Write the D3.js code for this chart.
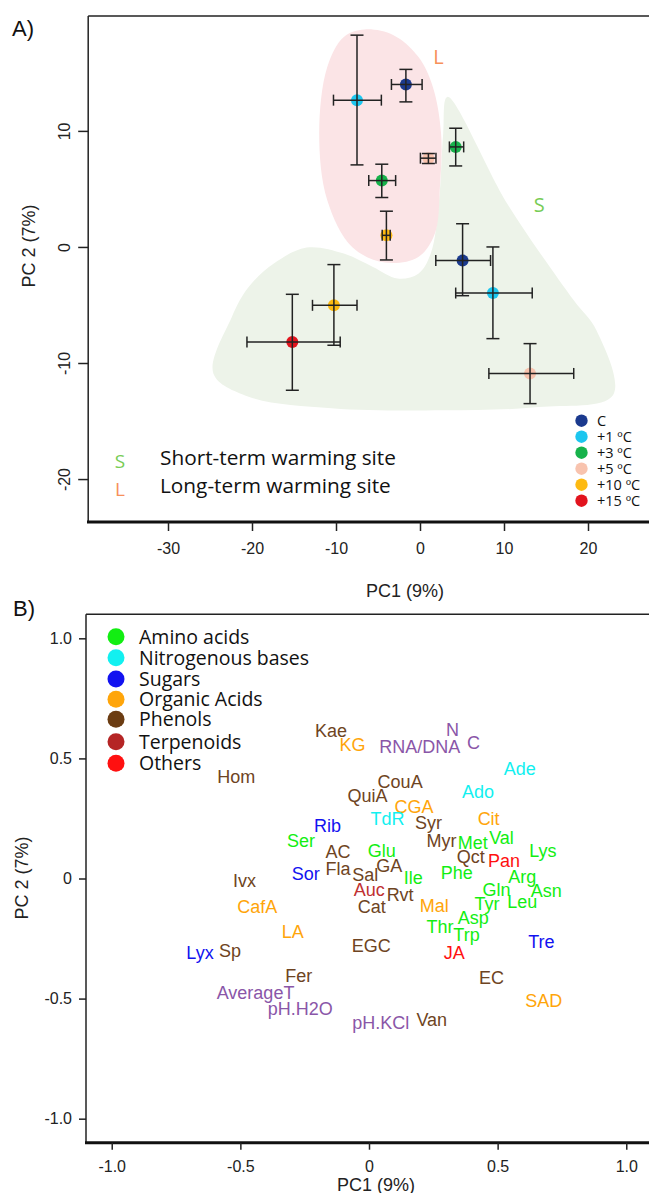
<!DOCTYPE html>
<html><head><meta charset="utf-8">
<script src="https://cdn.jsdelivr.net/npm/d3@7"></script>
<style>body{margin:0;background:#fff}svg{display:block}</style>
</head><body>
<script>
// ---------- Panel A data ----------
const treatments = ["C","+1 ºC","+3 ºC","+5 ºC","+10 ºC","+15 ºC"];
// Long-term site (L)
const lTreat  = ["C","+1 ºC","+3 ºC","+5 ºC","+10 ºC"];
const lPC1    = [-1.68, -7.5, -4.55, 1.0, -4.0];
const lPC1Lo  = [-3.40, -10.3, -6.1, 0.05, -4.5];
const lPC1Hi  = [0.25, -4.6, -2.9, 1.9, -3.55];
const lPC2    = [14.0, 12.65, 5.72, 7.65, 1.0];
const lPC2Lo  = [12.5, 7.07, 4.26, 7.19, -1.12];
const lPC2Hi  = [15.3, 18.25, 7.13, 8.05, 3.08];
// Short-term site (S)
const sTreat  = ["C","+1 ºC","+3 ºC","+5 ºC","+10 ºC","+15 ºC"];
const sPC1    = [5.07, 8.68, 4.25, 13.1, -10.25, -15.2];
const sPC1Lo  = [1.88, 4.25, 3.5, 8.2, -12.8, -20.6];
const sPC1Hi  = [8.4, 13.36, 5.2, 18.3, -7.5, -9.5];
const sPC2    = [-1.17, -3.97, 8.62, -10.9, -5.03, -8.19];
const sPC2Lo  = [-4.2, -7.9, 6.98, -13.5, -8.47, -12.35];
const sPC2Hi  = [2.0, 0.0, 10.23, -8.33, -1.52, -4.08];
// site envelopes (data units)
const lHullX = [-6.6,-3.15,-0.2,1.53,2.51,2.37,1.77,-0.2,-4.14,-8.08,-11.04,-12.0,-11.04,-9.07];
const lHullY = [18.74,18.25,16.38,13.79,9.78,5.17,1.16,-0.86,-1.35,0,4.03,9.78,15.5,18.1];
const sHullX = [3.25,10.5,18.3,21.0,22.97,14.1,2.76,-10.5,-20.4,-24.6,-22.4,-20.4,-17.4,-13.5,-9.07,-5.6,-2.66,-0.2,1.28,2.27,2.76];
const sHullY = [12.93,3.6,-4.6,-7.18,-12.78,-13.8,-14.08,-13.9,-12.9,-10.9,-6.03,-3.45,-1.43,-0.05,-0.57,-1.72,-2.72,-2.3,-0.57,4.03,9.78];
const xTicksA = [-30,-20,-10,0,10,20];
const yTicksA = [-20,-10,0,10];

// ---------- Panel B data ----------
const groups = ["Amino acids","Nitrogenous bases","Sugars","Organic Acids","Phenols","Terpenoids","Others"];
const varNames = ["Kae","KG","RNA/DNA","N","C","Ade","CouA","QuiA","Ado","CGA","TdR","Syr","Cit","Rib","Myr","Met","Val","Lys","AC","Glu","Qct","Pan","Fla","GA","Sal","Phe","Arg","Ile","Ser","Sor","Ivx","Auc","Rvt","Cat","CafA","LA","EGC","Lyx","Sp","Fer","AverageT","pH.H2O","pH.KCl","Van","Mal","Thr","JA","Gln","Asn","Tyr","Leu","Asp","Trp","Tre","EC","SAD","Hom"];
const varPC1 = [-0.148,-0.064,0.197,0.325,0.406,0.586,0.121,-0.006,0.424,0.175,0.072,0.231,0.465,-0.161,0.282,0.403,0.515,0.676,-0.120,0.050,0.396,0.525,-0.120,0.079,-0.015,0.341,0.596,0.172,-0.264,-0.246,-0.484,0.001,0.121,0.011,-0.434,-0.296,0.009,-0.657,-0.540,-0.273,-0.441,-0.267,0.046,0.244,0.254,0.276,0.331,0.496,0.689,0.459,0.596,0.405,0.379,0.670,0.476,0.679,-0.516];
const varPC2 = [0.617,0.557,0.550,0.620,0.566,0.457,0.402,0.346,0.360,0.298,0.249,0.231,0.249,0.218,0.159,0.149,0.169,0.114,0.110,0.117,0.089,0.076,0.041,0.055,0.016,0.023,0.006,0.002,0.159,0.020,-0.010,-0.046,-0.066,-0.119,-0.119,-0.223,-0.278,-0.308,-0.299,-0.403,-0.475,-0.544,-0.600,-0.586,-0.112,-0.199,-0.310,-0.045,-0.049,-0.107,-0.098,-0.164,-0.236,-0.264,-0.412,-0.510,0.422];
const varGroup = ["Phenols","Organic Acids","Env","Env","Env","Nitrogenous bases","Phenols","Phenols","Nitrogenous bases","Organic Acids","Nitrogenous bases","Phenols","Organic Acids","Sugars","Phenols","Amino acids","Amino acids","Amino acids","Phenols","Amino acids","Phenols","Others","Phenols","Phenols","Phenols","Amino acids","Amino acids","Amino acids","Amino acids","Sugars","Phenols","Terpenoids","Phenols","Phenols","Organic Acids","Organic Acids","Phenols","Sugars","Phenols","Phenols","Env","Env","Env","Phenols","Organic Acids","Amino acids","Others","Amino acids","Amino acids","Amino acids","Amino acids","Amino acids","Amino acids","Sugars","Phenols","Organic Acids","Phenols"];
const ticksB = [-1.0,-0.5,0,0.5,1.0];

// ---------- styles ----------
const treatColor = d3.scaleOrdinal().domain(treatments)
  .range(["#1b3a8e","#1cc6ef","#17b24b","#f8c3ae","#fdba12","#e2141e"]);
const groupColor = d3.scaleOrdinal().domain(groups.concat(["Env"]))
  .range(["#12ee12","#12f0f0","#1212f0","#ffa50a","#6b3c12","#b52525","#ff1010","#8a56a8"]);
const labelColor = d3.scaleOrdinal().domain(groups.concat(["Env"]))
  .range(["#12ee12","#12f0f0","#1212f0","#ffa50a","#6e4422","#c03030","#ff1010","#8a56a8"]);
const TICKF = "'Liberation Sans', Arial, sans-serif";
const LEGF = "'Open Sans', sans-serif";

const svg = d3.select("body").append("svg").attr("width",649).attr("height",1193);

// ================= Panel A =================
const xA = d3.scaleLinear().domain([-39.5, 27.5]).range([88.2, 651]);
const yA = d3.scaleLinear().domain([-23.7, 19.9]).range([522, 16]);
const gA = svg.append("g");

const hull = d3.line().x(d=>xA(d[0])).y(d=>yA(d[1])).curve(d3.curveCatmullRomClosed.alpha(0.5));
gA.append("path").attr("d", hull(sHullX.map((x,i)=>[x,sHullY[i]]))).attr("fill","#edf3e9");
gA.append("path").attr("d", hull(lHullX.map((x,i)=>[x,lHullY[i]]))).attr("fill","#fbe4e6");

// site letters
gA.append("text").attr("x",xA(2.2)).attr("y",yA(16.4)).attr("text-anchor","middle").attr("dominant-baseline","central")
  .attr("font-family",LEGF).attr("font-size",20).attr("fill","#f7905a").text("L");
gA.append("text").attr("x",xA(14.2)).attr("y",yA(3.7)).attr("text-anchor","middle").attr("dominant-baseline","central")
  .attr("font-family",LEGF).attr("font-size",20).attr("fill","#77cc55").text("S");

function drawSite(tr, m1, lo1, hi1, m2, lo2, hi2){
  const pts = tr.map((t,i)=>({t, x:m1[i], xl:lo1[i], xh:hi1[i], y:m2[i], yl:lo2[i], yh:hi2[i]}));
  gA.selectAll(null).data(pts).enter().append("circle")
    .attr("cx",d=>xA(d.x)).attr("cy",d=>yA(d.y)).attr("r",6).attr("fill",d=>treatColor(d.t));
  const cap = 5.5;
  const eb = gA.selectAll(null).data(pts).enter().append("g")
    .attr("stroke","#222").attr("stroke-width",1.5).attr("fill","none");
  eb.append("line").attr("x1",d=>xA(d.xl)).attr("x2",d=>xA(d.xh)).attr("y1",d=>yA(d.y)).attr("y2",d=>yA(d.y));
  eb.append("line").attr("x1",d=>xA(d.xl)).attr("x2",d=>xA(d.xl)).attr("y1",d=>yA(d.y)-cap).attr("y2",d=>yA(d.y)+cap);
  eb.append("line").attr("x1",d=>xA(d.xh)).attr("x2",d=>xA(d.xh)).attr("y1",d=>yA(d.y)-cap).attr("y2",d=>yA(d.y)+cap);
  eb.append("line").attr("y1",d=>yA(d.yl)).attr("y2",d=>yA(d.yh)).attr("x1",d=>xA(d.x)).attr("x2",d=>xA(d.x));
  eb.append("line").attr("y1",d=>yA(d.yl)).attr("y2",d=>yA(d.yl)).attr("x1",d=>xA(d.x)-cap-1).attr("x2",d=>xA(d.x)+cap+1);
  eb.append("line").attr("y1",d=>yA(d.yh)).attr("y2",d=>yA(d.yh)).attr("x1",d=>xA(d.x)-cap-1).attr("x2",d=>xA(d.x)+cap+1);
}
drawSite(sTreat, sPC1, sPC1Lo, sPC1Hi, sPC2, sPC2Lo, sPC2Hi);
drawSite(lTreat, lPC1, lPC1Lo, lPC1Hi, lPC2, lPC2Lo, lPC2Hi);

// frame
gA.append("line").attr("x1",88.2).attr("x2",649).attr("y1",16).attr("y2",16).attr("stroke","#222").attr("stroke-width",1.5);
gA.append("line").attr("x1",88.2).attr("x2",88.2).attr("y1",16).attr("y2",522).attr("stroke","#222").attr("stroke-width",1.5);
gA.append("line").attr("x1",87).attr("x2",649).attr("y1",522).attr("y2",522).attr("stroke","#111").attr("stroke-width",3);

// axes
const axAx = gA.append("g").attr("transform","translate(0,522)")
  .call(d3.axisBottom(xA).tickValues(xTicksA).tickSize(9).tickSizeOuter(0).tickFormat(d=>String(d)));
const axAy = gA.append("g").attr("transform","translate(88.2,0)")
  .call(d3.axisLeft(yA).tickValues(yTicksA).tickSize(10).tickSizeOuter(0).tickFormat(d=>String(d)));
[axAx,axAy].forEach(a=>{a.select(".domain").remove();
  a.selectAll(".tick line").attr("stroke","#222").attr("stroke-width",1.5);
  a.selectAll("text").attr("font-family",TICKF).attr("font-size",16).attr("fill","#222");});
axAx.selectAll("text").attr("dy","1.25em");
axAy.selectAll("text").attr("transform","rotate(-90)")
  .attr("x",0).attr("y",-24).attr("dy","0").attr("text-anchor","middle").attr("dominant-baseline","central");

gA.append("text").attr("x",405).attr("y",597).attr("text-anchor","middle")
  .attr("font-family",TICKF).attr("font-size",18).attr("fill","#222").text("PC1 (9%)");
gA.append("text").attr("transform","translate(35,246) rotate(-90)").attr("text-anchor","middle")
  .attr("font-family",TICKF).attr("font-size",18).attr("fill","#222").text("PC 2 (7%)");
gA.append("text").attr("x",12).attr("y",36).attr("font-family",TICKF).attr("font-size",22).attr("fill","#111").text("A)");

// site legend
const siteLeg = [["S","Short-term warming site","#77cc55"],["L","Long-term warming site","#f7905a"]];
siteLeg.forEach((s,i)=>{
  const y = 465 + i*28;
  gA.append("text").attr("x",120).attr("y",y+3).attr("text-anchor","middle").attr("font-family",LEGF)
    .attr("font-size",19).attr("fill",s[2]).text(s[0]);
  gA.append("text").attr("x",160).attr("y",y).attr("font-family",LEGF).attr("font-size",20.8)
    .attr("fill","#111").text(s[1]);
});
// treatment legend
treatments.forEach((t,i)=>{
  const y = 420.7 + i*16;
  gA.append("circle").attr("cx",581.5).attr("cy",y).attr("r",6.2).attr("fill",treatColor(t));
  gA.append("text").attr("x",597).attr("y",y).attr("dy","0.36em").attr("font-family",LEGF)
    .attr("font-size",14.5).attr("fill","#111").text(t);
});

// ================= Panel B =================
const xB = d3.scaleLinear().domain([-1.1,1.1]).range([86,652]);
const yB = d3.scaleLinear().domain([-1.1,1.1]).range([1142.7,614.3]);
const gB = svg.append("g");

gB.append("line").attr("x1",86).attr("x2",649).attr("y1",614.3).attr("y2",614.3).attr("stroke","#222").attr("stroke-width",1.5);
gB.append("line").attr("x1",86).attr("x2",86).attr("y1",614.3).attr("y2",1142.7).attr("stroke","#222").attr("stroke-width",1.5);
gB.append("line").attr("x1",85).attr("x2",649).attr("y1",1142.7).attr("y2",1142.7).attr("stroke","#111").attr("stroke-width",3);

const fmtB = d=> d===0 ? "0" : d3.format(".1f")(d).replace("−","-");
const axBx = gB.append("g").attr("transform","translate(0,1142.7)")
  .call(d3.axisBottom(xB).tickValues(ticksB).tickSize(7).tickSizeOuter(0).tickFormat(fmtB));
const axBy = gB.append("g").attr("transform","translate(86,0)")
  .call(d3.axisLeft(yB).tickValues(ticksB).tickSize(7).tickSizeOuter(0).tickFormat(fmtB));
[axBx,axBy].forEach(a=>{a.select(".domain").remove();
  a.selectAll(".tick line").attr("stroke","#222").attr("stroke-width",1.5);
  a.selectAll("text").attr("font-family",TICKF).attr("font-size",16).attr("fill","#222");});
axBx.selectAll("text").attr("dy","1.2em");
axBy.selectAll("text").attr("x",-14);

gB.append("text").attr("x",376).attr("y",1191).attr("text-anchor","middle")
  .attr("font-family",TICKF).attr("font-size",18).attr("fill","#222").text("PC1 (9%)");
gB.append("text").attr("transform","translate(28,878) rotate(-90)").attr("text-anchor","middle")
  .attr("font-family",TICKF).attr("font-size",18).attr("fill","#222").text("PC 2 (7%)");
gB.append("text").attr("x",13).attr("y",616).attr("font-family",TICKF).attr("font-size",22).attr("fill","#111").text("B)");

// group legend
const legY = [636.7,657.7,679,699.3,719.3,741.7,763.3];
groups.forEach((g,i)=>{
  gB.append("circle").attr("cx",116).attr("cy",legY[i]).attr("r",8.5).attr("fill",groupColor(g));
  gB.append("text").attr("x",139).attr("y",legY[i]).attr("dy","0.36em").attr("font-family",LEGF)
    .attr("font-size",19.5).attr("fill","#111").text(g);
});

// variable labels
const vars = varNames.map((n,i)=>({n, x:varPC1[i], y:varPC2[i], g:varGroup[i]}));
gB.selectAll(null).data(vars).enter().append("text")
  .attr("x",d=>xB(d.x)).attr("y",d=>yB(d.y)).attr("dy","0.35em").attr("text-anchor","middle")
  .attr("font-family",TICKF).attr("font-size",18).attr("fill",d=>labelColor(d.g)).text(d=>d.n);
</script>
</body></html>
